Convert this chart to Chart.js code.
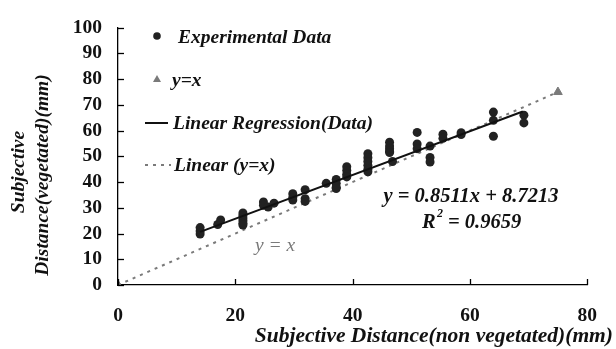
<!DOCTYPE html>
<html>
<head>
<meta charset="utf-8">
<script src="https://cdn.jsdelivr.net/npm/chart.js@4/dist/chart.umd.min.js"></script>
<style>
  html, body { margin: 0; padding: 0; background: #fff; }
  #wrap { width: 616px; height: 349px; position: relative; }
</style>
</head>
<body>
<div id="wrap"><canvas id="distChart"></canvas></div>
<script>
// Data
const expX = [14, 14, 14, 17, 17.5, 21.3, 21.3, 21.3, 21.3, 21.3, 21.3,
  24.8, 24.8, 25.6, 26.6, 29.8, 29.8, 29.8, 31.9, 31.9, 31.9,
  35.5, 37.2, 37.2, 37.2, 37.2, 39, 39, 39, 39,
  42.6, 42.6, 42.6, 42.6, 42.6, 42.6, 46.3, 46.3, 46.3, 46.3, 46.3, 46.8,
  51, 51, 51, 53.2, 53.2, 53.2, 55.4, 55.4, 58.5, 58.5,
  64, 64, 64, 69.2, 69.2];
const expY = [19.8, 21, 22.3, 23.5, 25.3, 28, 27, 26, 25, 24, 23.3,
  32.3, 31, 30.3, 31.8, 35.5, 34, 33, 37, 33.5, 32.5,
  39.5, 41, 39.5, 38, 37.5, 46, 44.5, 43, 42,
  51, 49.5, 48, 46.5, 45, 44, 55.5, 54, 53, 52, 51.5, 48,
  59.3, 54.8, 53, 54, 49.6, 47.8, 58.6, 57, 59.2, 58.5,
  67.2, 64, 57.8, 66, 63];
const identX = [0, 75];
const identY = [0, 75];
const regSlope = 0.8511, regIntercept = 8.7213;
const regX = [14, 69];
const xTicks = [0, 20, 40, 60, 80];
const yTicks = [0, 10, 20, 30, 40, 50, 60, 70, 80, 90, 100];

const serif = "'Liberation Serif', 'Times New Roman', serif";
const greyColor = '#7a7a7a',
  darkColor = '#222222';

const toPoints = (xs, ys) => xs.map((x, i) => ({ x: x, y: ys[i] }));

// inward tick marks, legend, titles and equation text
const decorPlugin = {
  id: 'decor',
  afterDraw(chart) {
    const ctx = chart.ctx;
    const xs = chart.scales.x, ys = chart.scales.y;
    const area = chart.chartArea;
    ctx.save();
    ctx.strokeStyle = '#000';
    ctx.lineWidth = 1.3;
    yTicks.forEach(function (v) {
      const py = Math.round(ys.getPixelForValue(v)) + 0.5;
      ctx.beginPath();
      ctx.moveTo(area.left, py);
      ctx.lineTo(area.left + 6, py);
      ctx.stroke();
    });
    xTicks.forEach(function (v) {
      const px = Math.round(xs.getPixelForValue(v)) + 0.5;
      ctx.beginPath();
      ctx.moveTo(px, area.bottom);
      ctx.lineTo(px, area.bottom - 6);
      ctx.stroke();
    });

    // legend
    const font = 'italic bold 19.5px ' + serif;
    ctx.textBaseline = 'middle';
    ctx.textAlign = 'left';
    ctx.font = font;
    ctx.fillStyle = darkColor;
    ctx.beginPath();
    ctx.arc(157, 36, 3.8, 0, Math.PI * 2);
    ctx.fill();
    ctx.fillStyle = '#111';
    ctx.fillText('Experimental Data', 178, 38);

    ctx.fillStyle = greyColor;
    ctx.beginPath();
    ctx.moveTo(157, 75);
    ctx.lineTo(161, 82);
    ctx.lineTo(153, 82);
    ctx.closePath();
    ctx.fill();
    ctx.fillStyle = '#111';
    ctx.fillText('y=x', 172, 81);

    ctx.strokeStyle = '#111';
    ctx.lineWidth = 2;
    ctx.beginPath();
    ctx.moveTo(145, 123);
    ctx.lineTo(168, 123);
    ctx.stroke();
    ctx.fillText('Linear Regression(Data)', 173, 124);

    ctx.strokeStyle = greyColor;
    ctx.setLineDash([3, 5]);
    ctx.beginPath();
    ctx.moveTo(145, 165);
    ctx.lineTo(171, 165);
    ctx.stroke();
    ctx.setLineDash([]);
    ctx.fillStyle = '#111';
    ctx.fillText('Linear (y=x)', 174, 166);

    // equation
    ctx.font = 'italic bold 20.5px ' + serif;
    ctx.textAlign = 'center';
    ctx.fillText('y = 0.8511x + 8.7213', 471, 197);
    ctx.textAlign = 'left';
    ctx.fillText('R', 422, 223);
    ctx.font = 'italic bold 12px ' + serif;
    ctx.fillText('2', 437, 214);
    ctx.font = 'italic bold 20.5px ' + serif;
    ctx.fillText('= 0.9659', 448, 223);

    ctx.textAlign = 'center';
    ctx.fillStyle = greyColor;
    ctx.font = 'italic 19.5px ' + serif;
    ctx.fillText('y = x', 275, 246);

    // axis titles
    ctx.fillStyle = '#111';
    ctx.font = 'italic bold 21.5px ' + serif;
    ctx.textAlign = 'right';
    ctx.fillText('Subjective Distance(non vegetated)(mm)', 613, 336);

    ctx.font = font;
    ctx.translate(19, 172);
    ctx.rotate(-Math.PI / 2);
    ctx.textAlign = 'center';
    ctx.fillText('Subjective', 0, 0);
    ctx.fillText('Distance(vegetated)(mm)', -3, 24);
    ctx.restore();
  }
};

const distChart = document.getElementById('distChart');
new Chart(distChart, {
  type: 'scatter',
  data: {
    datasets: [
      {
        label: 'Experimental Data',
        data: toPoints(expX, expY),
        backgroundColor: darkColor,
        borderColor: darkColor,
        pointRadius: 4.5,
        pointBorderWidth: 0,
        order: 1
      },
      {
        label: 'y=x',
        data: toPoints(identX, identY),
        pointStyle: 'triangle',
        backgroundColor: greyColor,
        borderColor: greyColor,
        pointRadius: 5,
        order: 2
      },
      {
        label: 'Linear Regression(Data)',
        type: 'line',
        data: regX.map(x => ({ x: x, y: regSlope * x + regIntercept })),
        borderColor: '#111',
        borderWidth: 2,
        pointRadius: 0,
        fill: false,
        order: 0
      },
      {
        label: 'Linear (y=x)',
        type: 'line',
        data: toPoints(identX, identY),
        borderColor: greyColor,
        borderWidth: 2,
        borderDash: [3, 5],
        pointRadius: 0,
        fill: false,
        order: 3
      }
    ]
  },
  options: {
    responsive: true,
    maintainAspectRatio: false,
    animation: false,
    layout: { padding: { top: 16, right: 14, left: 0, bottom: 0 } },
    plugins: {
      legend: { display: false },
      tooltip: { enabled: false }
    },
    scales: {
      x: {
        type: 'linear',
        min: 0,
        max: 80,
        afterFit: function (scale) { scale.height = 64; },
        afterBuildTicks: function (scale) { scale.ticks = xTicks.map(v => ({ value: v })); },
        grid: { display: false, drawTicks: false },
        border: { display: true, color: '#000', width: 1.3 },
        ticks: {
          autoSkip: false,
          maxRotation: 0,
          padding: 19,
          color: '#111',
          font: { family: serif, size: 19.5, weight: 'bold' }
        }
      },
      y: {
        type: 'linear',
        min: 0,
        max: 100,
        afterFit: function (scale) { scale.width = 118; },
        afterBuildTicks: function (scale) { scale.ticks = yTicks.map(v => ({ value: v })); },
        grid: { display: false, drawTicks: false },
        border: { display: true, color: '#000', width: 1.3 },
        ticks: {
          autoSkip: false,
          padding: 16,
          color: '#111',
          font: { family: serif, size: 19.5, weight: 'bold' }
        }
      }
    }
  },
  plugins: [decorPlugin]
});
</script>
</body>
</html>
